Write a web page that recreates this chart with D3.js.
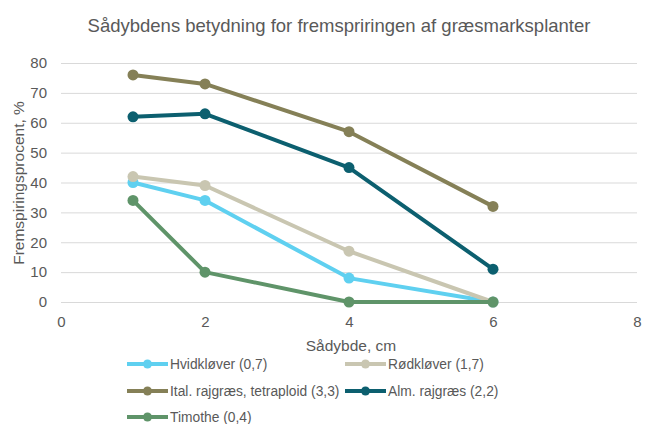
<!DOCTYPE html>
<html><head><meta charset="utf-8">
<script src="https://cdn.jsdelivr.net/npm/d3@7"></script>
<style>body{margin:0;background:#fff;}svg{display:block;font-family:"Liberation Sans",Arial,sans-serif;}</style>
</head><body>
<svg id="c" width="648" height="424"></svg>
<script>
const depths = [1, 2, 4, 6];
const seriesNames = ["Hvidkløver (0,7)", "Rødkløver (1,7)", "Ital. rajgræs, tetraploid (3,3)", "Alm. rajgræs (2,2)", "Timothe (0,4)"];
const hvidklover = [40, 34, 8, 0];
const rodklover = [42, 39, 17, 0];
const italRajgraes = [76, 73, 57, 32];
const almRajgraes = [62, 63, 45, 11];
const timothe = [34, 10, 0, 0];
const seriesColors = ["#5fd0f0", "#c9c6b1", "#858057", "#0c5f6f", "#5f9469"];
const xTicks = [0, 2, 4, 6, 8];
const yTicks = [0, 10, 20, 30, 40, 50, 60, 70, 80];

const allSeries = [hvidklover, rodklover, italRajgraes, almRajgraes, timothe];
const svg = d3.select("#c");
const x = d3.scaleLinear().domain([0, 8]).range([61, 637]);
const y = d3.scaleLinear().domain([0, 80]).range([302, 63]);
const txt = "#595959";
const ff = "Liberation Sans, Arial, sans-serif";

svg.append("text").attr("x", 339).attr("y", 32).attr("text-anchor", "middle")
  .attr("font-size", 18.5).attr("fill", txt).text("Sådybdens betydning for fremspriringen af græsmarksplanter");

const yAxis = d3.axisLeft(y).tickValues(yTicks).tickSize(-(637 - 61)).tickPadding(14);
const gy = svg.append("g").attr("transform", "translate(61,0)").call(yAxis);
gy.select(".domain").remove();
gy.selectAll("line").attr("stroke", "#d9d9d9").attr("stroke-width", 1);
gy.selectAll("text").attr("fill", txt).attr("font-size", 15).attr("font-family", ff);

const xAxis = d3.axisBottom(x).tickValues(xTicks).tickSize(0).tickPadding(14);
const gx = svg.append("g").attr("transform", "translate(0,302)").call(xAxis);
gx.select(".domain").remove();
gx.selectAll("text").attr("fill", txt).attr("font-size", 15).attr("font-family", ff);

svg.append("text").attr("x", 351).attr("y", 351).attr("text-anchor", "middle")
  .attr("font-size", 15.5).attr("fill", txt).text("Sådybde, cm");
svg.append("text").attr("transform", "translate(24,183) rotate(-90)").attr("text-anchor", "middle")
  .attr("font-size", 15.5).attr("fill", txt).text("Fremspiringsprocent, %");

const line = d3.line().x((d, i) => x(depths[i])).y(d => y(d));
allSeries.forEach((s, k) => {
  const g = svg.append("g");
  g.append("path").attr("d", line(s)).attr("fill", "none").attr("stroke", seriesColors[k])
    .attr("stroke-width", 4).attr("stroke-linejoin", "round");
  g.selectAll("circle").data(s).join("circle")
    .attr("cx", (d, i) => x(depths[i])).attr("cy", d => y(d)).attr("r", 5.5).attr("fill", seriesColors[k]);
});

const legendPos = [[127, 364], [345, 364], [127, 391], [345, 391], [127, 417]];
seriesNames.forEach((n, k) => {
  const [lx, ly] = legendPos[k];
  const g = svg.append("g");
  g.append("line").attr("x1", lx).attr("x2", lx + 41).attr("y1", ly).attr("y2", ly)
    .attr("stroke", seriesColors[k]).attr("stroke-width", 4);
  g.append("circle").attr("cx", lx + 20.5).attr("cy", ly).attr("r", 4.5).attr("fill", seriesColors[k]);
  g.append("text").attr("x", lx + 43).attr("y", ly + 5).attr("font-size", 13.8).attr("fill", txt).text(n);
});
</script>
</body></html>
